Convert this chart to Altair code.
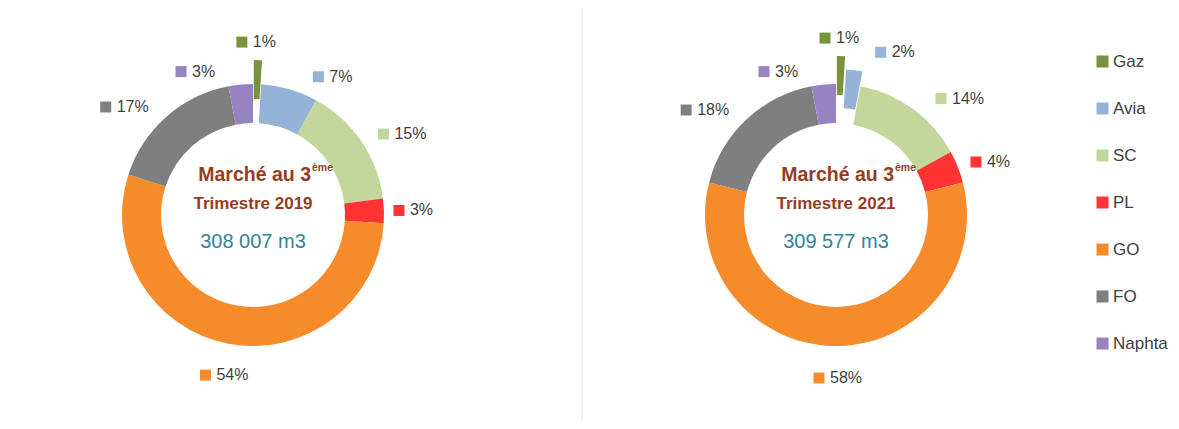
import altair as alt
import pandas as pd

# ---- data -------------------------------------------------------------
CATEGORIES = ["Gaz", "Avia", "SC", "PL", "GO", "FO", "Naphta"]
COLORS = ["#77933C", "#95B3D7", "#C3D69B", "#FF3333", "#F68B2C", "#7F7F7F", "#9583C2"]
YEARS = ["2019", "2021"]
SHARES_2019 = [1, 7, 15, 3, 54, 17, 3]
SHARES_2021 = [1, 2, 14, 4, 58, 18, 3]
VOLUMES = ["308 007 m3", "309 577 m3"]
LINE1 = "Marché au 3"
SUP = "ème"
LINE2 = "Trimestre "

rows = []
for year, shares in zip(YEARS, [SHARES_2019, SHARES_2021]):
    for i, (c, v) in enumerate(zip(CATEGORIES, shares)):
        rows.append({"year": year, "cat": c, "share": v, "order": i})
df = pd.DataFrame(rows)
center_df = pd.DataFrame({"year": YEARS, "volume": VOLUMES})

# ---- styles -------------------------------------------------------------
CX = "datum.year == '2019' ? 245 : 828"
CY = 207
R_IN, R_OUT = 92, 131
FONT = "Liberation Sans"
EXPLODE = ("datum.year=='2019' && datum.cat=='Gaz' ? 24 : "
           "datum.year=='2021' && datum.cat=='Gaz' ? 28 : "
           "datum.year=='2021' && datum.cat=='Avia' ? 15 : 0")

color_scale = alt.Scale(domain=CATEGORIES, range=COLORS)

base = alt.Chart(df).transform_window(
    cum="sum(share)", groupby=["year"], sort=[alt.SortField("order")]
).transform_joinaggregate(
    total="sum(share)", groupby=["year"]
).transform_calculate(
    a0="2*PI*(datum.cum - datum.share)/datum.total",
    a1="2*PI*datum.cum/datum.total",
).transform_calculate(
    mid="(datum.a0 + datum.a1)/2",
    cx=CX,
    ex=EXPLODE,
).transform_calculate(
    s="sin(datum.mid)",
    c="cos(datum.mid)",
).transform_calculate(
    ax="datum.cx + datum.ex*datum.s",
    ay=f"{CY} - datum.ex*datum.c",
    lr="163 + datum.ex",
    shift="(abs(datum.s) < 0.05 || datum.c < 0) ? 0 : (datum.s > 0 ? 1 : -1) * 40 * datum.c * datum.c",
    drop="datum.ex > 0 ? 14 : 19",
).transform_calculate(
    gx="datum.cx + datum.lr*datum.s + datum.shift",
    gy=f"{CY} - datum.lr*datum.c + datum.drop*max(datum.c, 0)",
    lbl="datum.share + '%'",
)

arcs = base.mark_arc(innerRadius=R_IN, outerRadius=R_OUT).encode(
    theta=alt.Theta("a0:Q", scale=None),
    theta2="a1:Q",
    x=alt.X("ax:Q", scale=None, axis=None),
    y=alt.Y("ay:Q", scale=None, axis=None),
    color=alt.Color(
        "cat:N", scale=color_scale, sort=CATEGORIES, title=None,
        legend=alt.Legend(
            orient="none", legendX=1086, legendY=45, symbolType="square",
            symbolSize=144, symbolStrokeWidth=0, labelFontSize=17,
            labelColor="#404040", labelFont=FONT, rowPadding=29,
            labelOffset=2,
        ),
    ),
)

squares = base.transform_calculate(sx="datum.gx - 17").mark_square(
    size=121, opacity=1
).encode(
    x=alt.X("sx:Q", scale=None, axis=None),
    y=alt.Y("gy:Q", scale=None, axis=None),
    color=alt.Color("cat:N", scale=color_scale, legend=None),
)

labels = base.transform_calculate(tx="datum.gx - 6").mark_text(
    align="left", baseline="middle", fontSize=16, font=FONT, color="#404040"
).encode(
    x=alt.X("tx:Q", scale=None, axis=None),
    y=alt.Y("gy:Q", scale=None, axis=None),
    text="lbl:N",
)

cbase = alt.Chart(center_df).transform_calculate(
    cx=CX,
    l1=f"'{LINE1}'",
    sup=f"'{SUP}'",
    l2=f"'{LINE2}' + datum.year",
).transform_calculate(
    l1x="datum.cx + 58",
    supx="datum.cx + 59",
)

line1 = cbase.mark_text(
    align="right", baseline="middle", fontSize=19.5, fontWeight="bold",
    font=FONT, color="#963C22", dy=-40
).encode(x=alt.X("l1x:Q", scale=None, axis=None), y=alt.value(CY), text="l1:N")

sup = cbase.mark_text(
    align="left", baseline="middle", fontSize=10.5, fontWeight="bold",
    font=FONT, color="#963C22", dy=-47
).encode(x=alt.X("supx:Q", scale=None, axis=None), y=alt.value(CY), text="sup:N")

line2 = cbase.mark_text(
    align="center", baseline="middle", fontSize=17, fontWeight="bold",
    font=FONT, color="#963C22", dy=-11
).encode(x=alt.X("cx:Q", scale=None, axis=None), y=alt.value(CY), text="l2:N")

vol = cbase.mark_text(
    align="center", baseline="middle", fontSize=20,
    font=FONT, color="#31849B", dy=27
).encode(x=alt.X("cx:Q", scale=None, axis=None), y=alt.value(CY), text="volume:N")

divider = alt.Chart(center_df).mark_rule(color="#efefef", strokeWidth=1).encode(
    x=alt.value(574), y=alt.value(0), y2=alt.value(413)
)

chart = alt.layer(divider, arcs, squares, labels, line1, sup, line2, vol).properties(
    width=1163, height=413, padding=0, autosize=alt.AutoSizeParams(type="none"),
    background="white",
).configure_view(stroke=None)

chart.save("out.html", embed_options={"renderer": "svg", "actions": False})
